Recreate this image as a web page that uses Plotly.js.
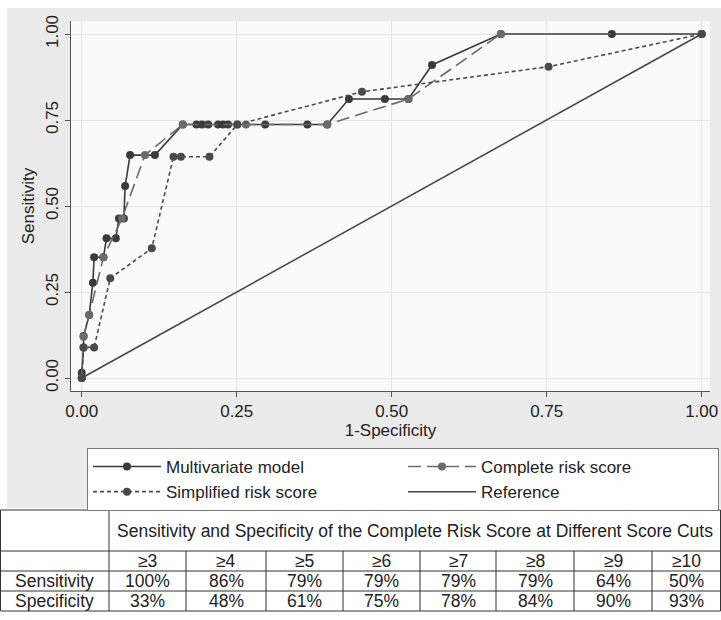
<!DOCTYPE html>
<html>
<head>
<meta charset="utf-8">
<script src="https://cdn.plot.ly/plotly-3.0.1.min.js"></script>
<style>html,body{margin:0;padding:0;background:#fff;}#chart{width:721px;height:620px;}</style>
</head>
<body>
<div id="chart"></div>
<script>
// ---- data ----
const multiX = [0, 0, 0.003, 0.003, 0.012, 0.018, 0.02, 0.035, 0.04, 0.055, 0.06, 0.068, 0.07, 0.078, 0.118, 0.163, 0.185, 0.194, 0.204, 0.22, 0.228, 0.236, 0.296, 0.364, 0.396, 0.431, 0.489, 0.527, 0.565, 0.676, 0.855, 1];
const multiY = [0, 0.015, 0.089, 0.122, 0.183, 0.277, 0.351, 0.351, 0.406, 0.406, 0.464, 0.464, 0.558, 0.648, 0.648, 0.737, 0.737, 0.737, 0.737, 0.737, 0.737, 0.737, 0.737, 0.737, 0.737, 0.811, 0.811, 0.811, 0.91, 1, 1, 1];

const compX = [0, 0.003, 0.012, 0.035, 0.065, 0.102, 0.163, 0.251, 0.265, 0.396, 0.527, 0.676, 1];
const compY = [0, 0.12, 0.183, 0.351, 0.464, 0.648, 0.737, 0.737, 0.737, 0.737, 0.811, 1, 1];

const simpX = [0, 0.003, 0.02, 0.046, 0.113, 0.148, 0.16, 0.206, 0.251, 0.452, 0.753, 1];
const simpY = [0, 0.089, 0.089, 0.29, 0.377, 0.643, 0.643, 0.643, 0.737, 0.832, 0.905, 1];

const refX = [0, 1];
const refY = [0, 1];

const seriesNames = ['Multivariate model', 'Complete risk score', 'Simplified risk score', 'Reference'];
const tickVals = [0, 0.25, 0.5, 0.75, 1];
const tickText = ['0.00', '0.25', '0.50', '0.75', '1.00'];

const tableTitle = 'Sensitivity and Specificity of the Complete Risk Score at Different Score Cuts';
const cuts = ['≥3', '≥4', '≥5', '≥6', '≥7', '≥8', '≥9', '≥10'];
const rowNames = ['Sensitivity', 'Specificity'];
const sensVals = ['100%', '86%', '79%', '79%', '79%', '79%', '64%', '50%'];
const specVals = ['33%', '48%', '61%', '75%', '78%', '84%', '90%', '93%'];

// ---- layout helpers (pixel -> paper fraction, margins are 0) ----
const W = 721, H = 620;
const px = v => v / W;
const py = v => 1 - v / H;
const FONT = 'Liberation Sans, Arial, sans-serif';

const traces = [
  {x: multiX, y: multiY, name: seriesNames[0], type: 'scatter', mode: 'lines+markers',
   line: {color: '#3a3a3a', width: 1.6}, marker: {color: '#3a3a3a', size: 8}},
  {x: compX, y: compY, name: seriesNames[1], type: 'scatter', mode: 'lines+markers',
   line: {color: '#6a6a6a', width: 1.6, dash: '13px,6px'}, marker: {color: '#6a6a6a', size: 8}},
  {x: simpX, y: simpY, name: seriesNames[2], type: 'scatter', mode: 'lines+markers',
   line: {color: '#4a4a4a', width: 1.6, dash: '4px,3px'}, marker: {color: '#4a4a4a', size: 8}},
  {x: refX, y: refY, name: seriesNames[3], type: 'scatter', mode: 'lines',
   line: {color: '#444444', width: 1.5}}
];

// table geometry
const colEdges = [109, 186, 266, 343, 420, 496, 574, 652, 720];
const rowEdges = [510, 551, 571, 591, 611];

const shapes = [
  {type: 'rect', xref: 'paper', yref: 'paper', x0: 0, x1: 1, y0: py(8), y1: 1, fillcolor: '#ffffff', line: {width: 0}, layer: 'below'},
  {type: 'rect', xref: 'paper', yref: 'paper', x0: 0, x1: px(7), y0: 0, y1: 1, fillcolor: '#ffffff', line: {width: 0}, layer: 'below'},
  {type: 'rect', xref: 'paper', yref: 'paper', x0: 0, x1: 1, y0: 0, y1: py(508), fillcolor: '#ffffff', line: {width: 0}, layer: 'below'}
];
rowEdges.forEach(r => shapes.push({type: 'line', xref: 'paper', yref: 'paper', x0: px(0.5), x1: px(720.5), y0: py(r), y1: py(r), line: {color: '#333', width: 1}}));
[0.5, 109, 720.5].forEach(c => shapes.push({type: 'line', xref: 'paper', yref: 'paper', x0: px(c), x1: px(c), y0: py(rowEdges[0]), y1: py(rowEdges[4]), line: {color: '#333', width: 1}}));
colEdges.slice(1, -1).forEach(c => shapes.push({type: 'line', xref: 'paper', yref: 'paper', x0: px(c), x1: px(c), y0: py(rowEdges[1]), y1: py(rowEdges[4]), line: {color: '#333', width: 1}}));

const annFont = {family: FONT, size: 17.5, color: '#222'};
const annotations = [];
annotations.push({xref: 'paper', yref: 'paper', x: px((colEdges[0] + colEdges[8]) / 2), y: py((rowEdges[0] + rowEdges[1]) / 2), text: tableTitle, showarrow: false, font: annFont, xanchor: 'center', yanchor: 'middle'});
const rowsText = [cuts, sensVals, specVals];
rowsText.forEach((row, ri) => {
  const yc = py((rowEdges[ri + 1] + rowEdges[ri + 2]) / 2);
  if (ri > 0) annotations.push({xref: 'paper', yref: 'paper', x: px(54.5), y: yc, text: rowNames[ri - 1], showarrow: false, font: annFont, xanchor: 'center', yanchor: 'middle'});
  row.forEach((t, ci) => {
    annotations.push({xref: 'paper', yref: 'paper', x: px((colEdges[ci] + colEdges[ci + 1]) / 2), y: yc, text: t, showarrow: false, font: annFont, xanchor: 'center', yanchor: 'middle'});
  });
});

const layout = {
  width: W, height: H,
  margin: {l: 0, r: 0, t: 0, b: 0, pad: 0},
  paper_bgcolor: '#ebebeb',
  plot_bgcolor: '#fafafa',
  font: {family: FONT, size: 17, color: '#222'},
  showlegend: true,
  xaxis: {
    domain: [px(71), px(710)],
    range: [-0.0173, 1.0134],
    tickvals: tickVals, ticktext: tickText,
    showline: true, linecolor: '#555', linewidth: 1,
    ticks: 'outside', ticklen: 5, tickcolor: '#555',
    showgrid: true, gridcolor: '#e6e6e6', gridwidth: 1, zeroline: false,
    tickfont: {family: FONT, size: 17, color: '#222'},
    title: {text: '1-Specificity', font: {family: FONT, size: 17, color: '#222'}, standoff: 2},
    automargin: false, fixedrange: true
  },
  yaxis: {
    domain: [py(391), py(21)],
    range: [-0.0378, 1.0378],
    tickvals: tickVals, ticktext: tickText, tickangle: -90,
    showline: true, linecolor: '#555', linewidth: 1,
    ticks: 'outside', ticklen: 5, tickcolor: '#555',
    showgrid: true, gridcolor: '#e6e6e6', gridwidth: 1, zeroline: false,
    tickfont: {family: FONT, size: 17, color: '#222'},
    title: {text: 'Sensitivity', font: {family: FONT, size: 17, color: '#222'}, standoff: 4},
    automargin: false, fixedrange: true
  },
  legend: {
    orientation: 'h', x: px(87), y: py(448), xanchor: 'left', yanchor: 'top',
    xref: 'paper', yref: 'paper',
    bgcolor: '#ffffff', bordercolor: '#7a7a7a', borderwidth: 1,
    font: {family: FONT, size: 17, color: '#222'},
    entrywidth: 232, entrywidthmode: 'pixels', itemwidth: 68, traceorder: 'normal'
  },
  shapes: shapes,
  annotations: annotations
};

Plotly.newPlot('chart', traces, layout, {displayModeBar: false, staticPlot: true});
</script>
</body>
</html>
